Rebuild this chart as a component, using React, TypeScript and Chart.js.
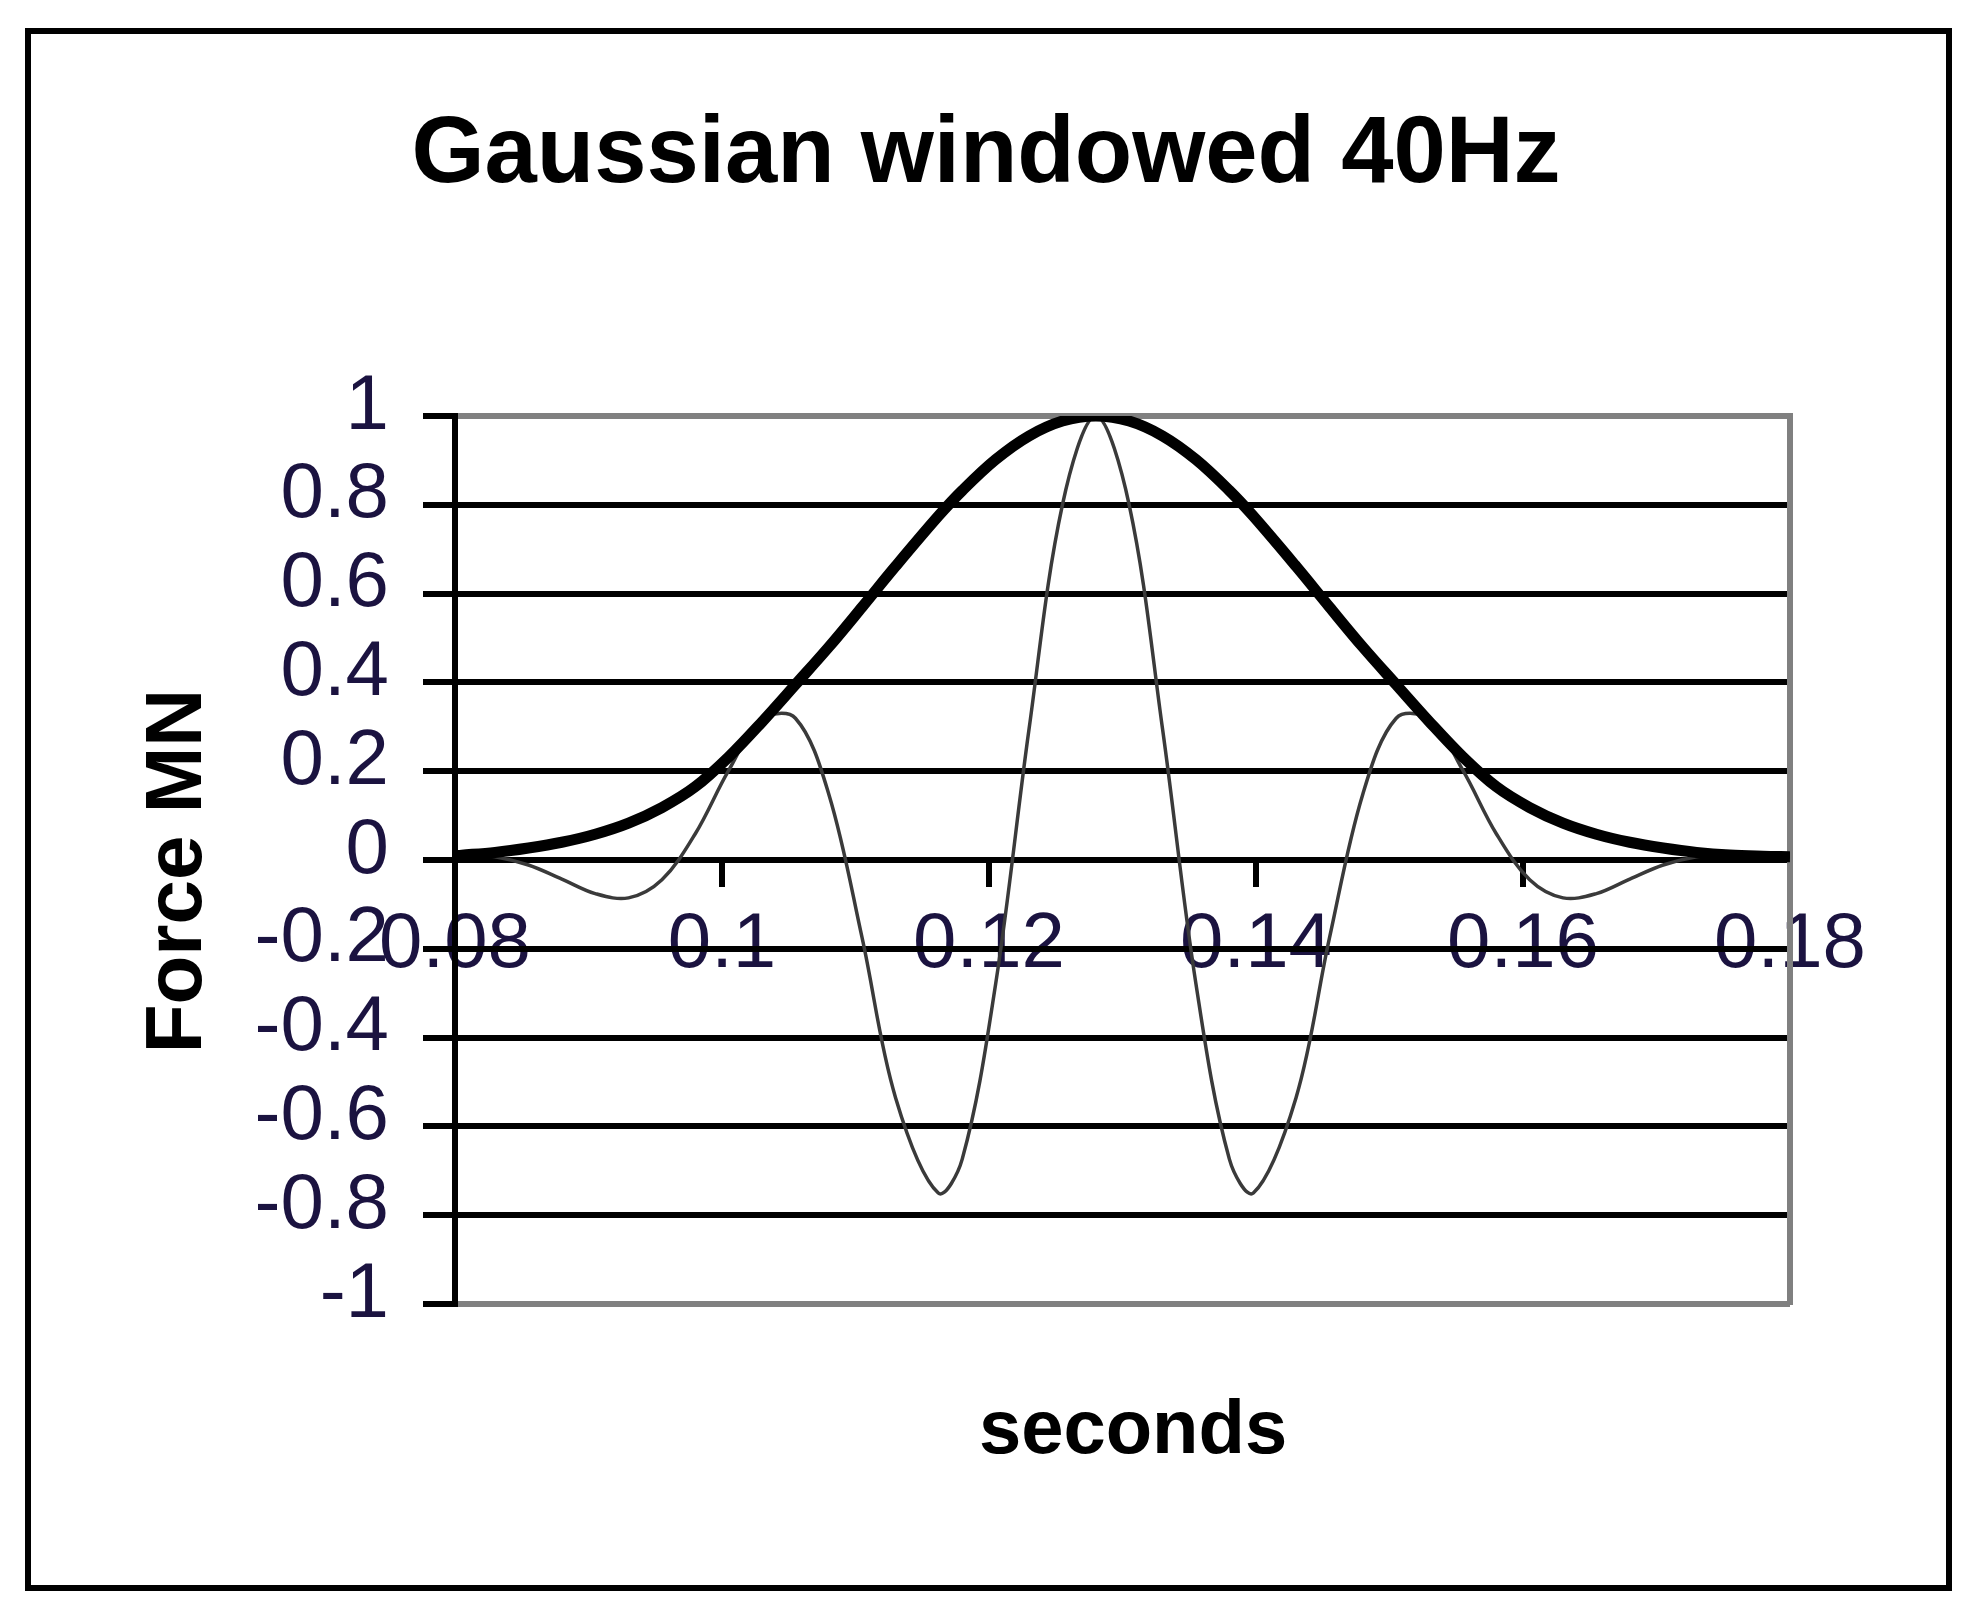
import React, { useEffect, useRef } from 'react';
import { Chart, registerables } from 'chart.js';

Chart.register(...registerables);

const chartTitle = 'Gaussian windowed 40Hz';
const xAxisTitle = ' seconds';
const yAxisTitle = 'Force MN ';

const xTickLabels = ['0.08', '0.1', '0.12', '0.14', '0.16', '0.18'];
const yTickLabels = ['-1', '-0.8', '-0.6', '-0.4', '-0.2', '0', '0.2', '0.4', '0.6', '0.8', '1'];

const seconds = [
  0.08, 0.0805, 0.083, 0.0855, 0.088, 0.0905, 0.093, 0.0955, 0.098, 0.1005, 0.103,
  0.1055, 0.108, 0.1105, 0.113, 0.1162, 0.118, 0.1205, 0.123, 0.1255, 0.128,
  0.1305, 0.133, 0.1355, 0.138, 0.1398, 0.143, 0.1455, 0.148, 0.1505, 0.153,
  0.1555, 0.158, 0.1605, 0.163, 0.1655, 0.168, 0.1705, 0.173, 0.1755, 0.178, 0.18,
];

const envelope = [
  0.01, 0.011, 0.017, 0.027, 0.04, 0.058, 0.083, 0.118, 0.165, 0.232, 0.311,
  0.395, 0.4797, 0.5699, 0.6615, 0.7744, 0.8322, 0.9019, 0.9551, 0.9886, 1.0,
  0.9886, 0.9551, 0.9019, 0.8322, 0.7744, 0.6615, 0.5699, 0.4797, 0.395, 0.311,
  0.232, 0.165, 0.118, 0.083, 0.058, 0.04, 0.027, 0.017, 0.011, 0.0085, 0.0075,
];

const windowedSignal = [
  0.0127, 0.0129, 0.0075, -0.0112, -0.0429, -0.0756, -0.0853, -0.0444, 0.0592, 0.2018, 0.3173,
  0.3193, 0.1482, -0.1761, -0.5352, -0.75, -0.6732, -0.2787, 0.2951, 0.7998, 1.0,
  0.7998, 0.2951, -0.2787, -0.6732, -0.75, -0.5352, -0.1761, 0.1482, 0.3193, 0.3173,
  0.2018, 0.0592, -0.0444, -0.0853, -0.0756, -0.0429, -0.0112, 0.0075, 0.0129, 0.0101, 0.0061,
];

const FONT = '"Liberation Sans", Arial, sans-serif';
const TICK_COLOR = '#1b1340';

export default function App() {
  const ref = useRef<HTMLCanvasElement>(null);

  useEffect(() => {
    const canvas = ref.current;
    if (!canvas) return;

    const framePlugin = {
      id: 'outerFrame',
      beforeDraw(chart: any) {
        const { ctx, width, height } = chart;
        ctx.save();
        ctx.fillStyle = '#ffffff';
        ctx.fillRect(0, 0, width, height);
        ctx.strokeStyle = '#000000';
        ctx.lineWidth = 6;
        ctx.strokeRect(28, 31, 1921, 1557);
        ctx.restore();
      },
    };

    const chart = new Chart(canvas, {
      type: 'line',
      data: {
        datasets: [
          {
            label: 'Gaussian envelope',
            data: seconds.map((x, i) => ({ x, y: envelope[i] })),
            borderColor: '#000000',
            borderWidth: 11,
            pointRadius: 0,
            fill: false,
            tension: 0.35,
          },
          {
            label: 'Windowed 40Hz',
            data: seconds.map((x, i) => ({ x, y: windowedSignal[i] })),
            borderColor: '#3a3a3a',
            borderWidth: 3.5,
            pointRadius: 0,
            fill: false,
            tension: 0.35,
          },
        ],
      },
      options: {
        responsive: false,
        animation: false,
        events: [],
        devicePixelRatio: 1,
        layout: { padding: { left: 120, right: 135, top: 0, bottom: 319 } },
        plugins: {
          legend: { display: false },
          tooltip: { enabled: false },
          title: {
            display: true,
            text: chartTitle,
            color: '#000000',
            font: { family: FONT, size: 94, weight: 'bold', lineHeight: 1.2 },
            padding: { top: 100, bottom: 203.2 },
          },
        },
        scales: {
          x: {
            type: 'linear',
            position: { y: 0 },
            min: 0.08,
            max: 0.18,
            ticks: {
              stepSize: 0.02,
              autoSkip: false,
              maxRotation: 0,
              callback: (_v: any, i: number) => xTickLabels[i],
              color: TICK_COLOR,
              font: { family: FONT, size: 78, lineHeight: 1.2 },
              padding: 15,
              z: -2,
            },
            grid: {
              drawOnChartArea: false,
              drawTicks: true,
              tickLength: 24,
              tickColor: '#000000',
              tickWidth: 6,
              lineWidth: 6,
            },
            border: { display: true, color: '#000000', width: 6 },
            title: {
              display: true,
              text: xAxisTitle,
              color: '#000000',
              font: { family: FONT, size: 76, weight: 'bold', lineHeight: 1.2 },
              padding: { top: 0, bottom: 0 },
            },
            afterFit: (s: any) => {
              s.height = 618;
            },
          },
          y: {
            type: 'linear',
            position: 'left',
            min: -1,
            max: 1,
            ticks: {
              stepSize: 0.2,
              autoSkip: false,
              callback: (_v: any, i: number) => yTickLabels[i],
              color: TICK_COLOR,
              font: { family: FONT, size: 78, lineHeight: 1.2 },
              padding: 34,
              labelOffset: -9,
            },
            grid: {
              color: (ctx: any) =>
                ctx.tick && Math.abs(Math.abs(ctx.tick.value) - 1) < 1e-9 ? '#808080' : '#000000',
              lineWidth: 6,
              drawTicks: true,
              tickLength: 32,
              tickColor: '#000000',
              tickWidth: 6,
            },
            border: { display: true, color: '#000000', width: 6 },
            title: {
              display: true,
              text: yAxisTitle,
              color: '#000000',
              font: { family: FONT, size: 80, weight: 'bold', lineHeight: 1.2 },
              padding: { top: 11.3, bottom: 0 },
            },
            afterFit: (s: any) => {
              s.width = 335;
            },
          },
          y2: {
            type: 'linear',
            axis: 'y',
            position: 'right',
            display: true,
            ticks: { display: false },
            grid: { display: false, drawTicks: false },
            border: { display: true, color: '#808080', width: 6 },
            afterFit: (s: any) => {
              s.width = 62;
            },
          },
        },
      } as any,
      plugins: [framePlugin],
    });

    return () => chart.destroy();
  }, []);

  return (
    <div style={{ position: 'absolute', left: 0, top: 0, width: 1987, height: 1623 }}>
      <canvas ref={ref} width={1987} height={1623} style={{ display: 'block', width: 1987, height: 1623 }} />
    </div>
  );
}
